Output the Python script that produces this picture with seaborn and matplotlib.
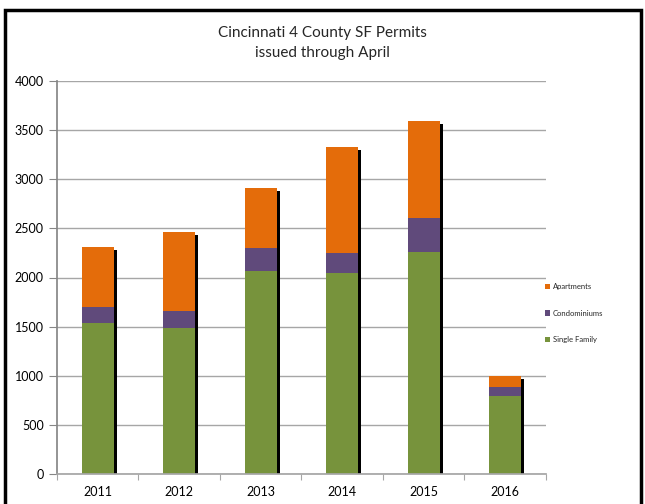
import matplotlib
matplotlib.use("Agg")
import matplotlib.pyplot as plt
import matplotlib.patheffects as pe
from matplotlib.patches import Rectangle, Patch
import seaborn as sns
import pandas as pd
import numpy as np

years = ["2011", "2012", "2013", "2014", "2015", "2016"]
single_family = [1534, 1486, 2066, 2049, 2256, 790]
condominiums = [169, 173, 231, 197, 346, 100]
apartments = [603, 800, 614, 1082, 991, 110]
series_names = ["Apartments", "Condominiums", "Single Family"]

sns.set_theme(style="white")
plt.rcParams['font.family'] = ['Lato', 'DejaVu Sans']

sf = np.array(single_family)
co = sf + np.array(condominiums)
ap = co + np.array(apartments)
df = pd.DataFrame({"year": years, "sf": sf, "co": co, "ap": ap})

fig = plt.figure(figsize=(6.45, 5.04), dpi=100)
ax = fig.add_axes([57 / 645, 1 - 474 / 504, 489 / 645, 393 / 504])

c_ap = "#E46C0A"
c_co = "#604A7B"
c_sf = "#77933C"
colors = [c_ap, c_co, c_sf]

shadow = [pe.SimplePatchShadow(offset=(2.2, -2.0), shadow_rgbFace="black", alpha=1.0), pe.Normal()]

sns.barplot(data=df, x="year", y="ap", color=c_ap, width=0.39, saturation=1, ax=ax, linewidth=0)
for p in ax.patches:
    p.set_path_effects(shadow)
sns.barplot(data=df, x="year", y="co", color=c_co, width=0.39, saturation=1, ax=ax, linewidth=0)
sns.barplot(data=df, x="year", y="sf", color=c_sf, width=0.39, saturation=1, ax=ax, linewidth=0)

ax.set_ylim(0, 4000)
ax.set_xlim(-0.5, 5.5)
ax.set_yticks(range(0, 4001, 500))
ax.yaxis.grid(True, color="#A6A6A6", linewidth=1)
ax.set_axisbelow(True)
ax.set_xlabel("")
ax.set_ylabel("")
for s in ["top", "right"]:
    ax.spines[s].set_visible(False)
ax.spines["left"].set_color("#868686")
ax.spines["bottom"].set_color("#A6A6A6")
ax.tick_params(axis="y", left=True, length=6, width=0.8, color="#868686", labelsize=9, pad=3.5,
               labelcolor="black")
ax.tick_params(axis="x", bottom=False, length=0, labelsize=9, pad=9, labelcolor="black")
ax.set_xticks(np.arange(-0.5, 5.6, 1), minor=True)
ax.tick_params(axis="x", which="minor", bottom=True, length=4, width=0.8, color="#A6A6A6")

fig.text(0.5, 1 - 32.7 / 504, "Cincinnati 4 County SF Permits", ha="center", va="center", fontsize=11)
fig.text(0.5, 1 - 53 / 504, "issued through April", ha="center", va="center", fontsize=11)

handles = [Patch(facecolor=c, edgecolor="none") for c in colors]
leg = fig.legend(handles, series_names, loc="center left",
                 bbox_to_anchor=(545 / 645, 1 - 313 / 504),
                 frameon=False, fontsize=5.5, handlelength=0.7, handleheight=0.7,
                 handletextpad=0.35, labelspacing=2.55, borderpad=0, borderaxespad=0)

fig.patches.append(Rectangle((4.5 / 645, -0.02), 636 / 645, 1 - 10 / 504 + 0.02,
                             transform=fig.transFigure, fill=False, edgecolor="black",
                             linewidth=2.5))

fig.savefig("out.png", dpi=100)
